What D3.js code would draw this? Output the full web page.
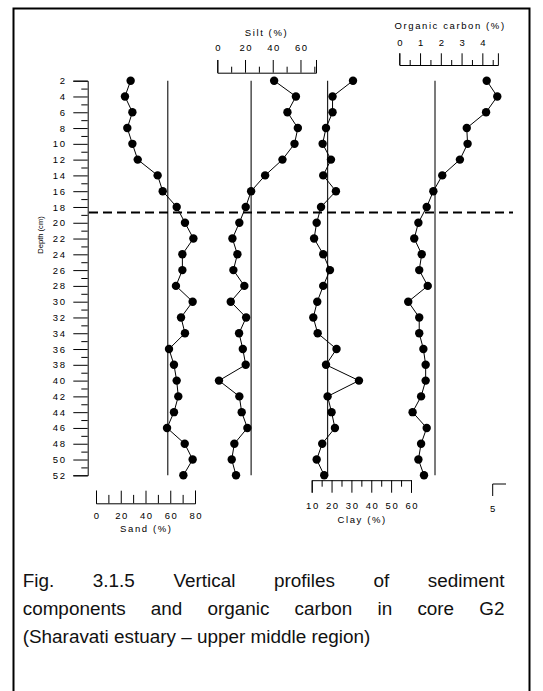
<!DOCTYPE html>
<html>
<head>
<meta charset="utf-8">
<script src="https://cdn.jsdelivr.net/npm/d3@7"></script>
<style>
  html, body { margin: 0; padding: 0; background: #fff; }
  svg { display: block; font-family: "Liberation Sans", Arial, sans-serif; }
</style>
</head>
<body>
<svg id="chart" width="543" height="691"></svg>
<script>
// Core G2 depth profiles (depth in cm)
const depths = [2, 4, 6, 8, 10, 12, 14, 16, 18, 20, 22, 24, 26, 28, 30, 32, 34, 36, 38, 40, 42, 44, 46, 48, 50, 52];
const sand = [28, 23.4, 29.4, 25.3, 29.4, 33.7, 49.8, 53.9, 65.2, 71.9, 78.7, 69.8, 69.8, 64.6, 78.1, 68.7, 71.9, 59, 63, 65.2, 66.5, 63, 57.4, 71.7, 78.1, 70.6];
const silt = [41, 56.7, 50.6, 58.1, 55.7, 47, 34.5, 24.4, 20.5, 15.9, 10.9, 14.5, 11.6, 19.5, 9.7, 20.8, 15.7, 18.4, 20.5, 1.2, 15.9, 17.6, 21.7, 12.3, 10.4, 13.5];
const clay = [30.8, 20.5, 20.5, 17.2, 15.5, 19.7, 15.8, 22.2, 14.7, 12.5, 11.2, 15.8, 19.2, 15.8, 12.8, 10.8, 13, 22.5, 17.2, 33.8, 18, 20, 21.7, 15.3, 12.5, 16.3];
const organicCarbon = [4.21, 4.72, 4.18, 3.25, 3.29, 2.92, 2.07, 1.64, 1.32, 0.92, 0.72, 1.08, 0.96, 1.37, 0.43, 0.96, 0.96, 1.16, 1.27, 1.27, 1.05, 0.64, 1.32, 1.05, 0.92, 1.19];

// Core averages shown as vertical reference lines
const sandMean = 58;
const siltMean = 24.4;
const clayMean = 18;
const carbonMean = 1.72;

// Depth of the boundary marked with a dashed line
const boundaryDepth = 18.7;

// Axis ticks and labels
const depthTicks = d3.range(2, 53, 1);
const sandTicks = [0, 10, 20, 30, 40, 50, 60, 70, 80];
const sandLabels = [0, 20, 40, 60, 80];
const siltTicks = [0, 10, 20, 30, 40, 50, 60, 70];
const siltLabels = [0, 20, 40, 60];
const clayTicks = [10, 15, 20, 25, 30, 35, 40, 45, 50, 55, 60];
const clayLabels = [10, 20, 30, 40, 50, 60];
const carbonTicks = [0, 0.5, 1, 1.5, 2, 2.5, 3, 3.5, 4, 4.5];
const carbonLabels = [0, 1, 2, 3, 4];

const captionLines = [
  "Fig. 3.1.5 Vertical profiles of sediment",
  "components and organic carbon in core G2",
  "(Sharavati estuary \u2013 upper middle region)"
];

const svg = d3.select("#chart");

// Page frame
svg.append("rect")
  .attr("x", 13.5).attr("y", 8.5)
  .attr("width", 516).attr("height", 700)
  .attr("fill", "none").attr("stroke", "#000").attr("stroke-width", 2);

// Scales
const y = d3.scaleLinear().domain([2, 52]).range([80.7, 475.3]);
const xSand = d3.scaleLinear().domain([0, 80]).range([96, 195]);
const xSilt = d3.scaleLinear().domain([0, 71.2]).range([217.3, 316]);
const xClay = d3.scaleLinear().domain([10, 60]).range([311.7, 411]);
const xCarbon = d3.scaleLinear().domain([0, 4.75]).range([399.3, 497.9]);

const tickFont = 9.5;
const spacing = 1.6;

function styleAxis(g) {
  g.selectAll("path.domain").attr("stroke", "#000").attr("stroke-width", 1);
  g.selectAll(".tick line").attr("stroke", "#000").attr("stroke-width", 1);
  g.selectAll(".tick text")
    .attr("fill", "#000")
    .style("font-size", tickFont + "px")
    .style("letter-spacing", spacing + "px")
    .style("font-family", "'Liberation Sans', Arial, sans-serif");
}

function axisTitle(x, yPos, text) {
  svg.append("text")
    .attr("x", x + spacing / 2).attr("y", yPos).attr("dy", "0.35em")
    .attr("text-anchor", "middle")
    .style("font-size", tickFont + "px")
    .style("letter-spacing", spacing + "px")
    .text(text);
}

// Depth axis: long labelled ticks at even depths, short ones between
const yAxis = svg.append("g")
  .attr("transform", "translate(87.7,0)")
  .call(d3.axisLeft(y).tickValues(depthTicks).tickSizeOuter(0).tickSize(14.4).tickPadding(9)
    .tickFormat(d => d % 2 === 0 ? d : ""));
styleAxis(yAxis);
yAxis.selectAll(".tick line").attr("x2", d => d % 2 === 0 ? -14.4 : -6.4);
yAxis.selectAll(".tick text").attr("x", -22.7 + spacing);

svg.append("text")
  .attr("transform", "translate(40.7,235) rotate(-90)")
  .attr("text-anchor", "middle").attr("dy", "0.35em")
  .style("font-size", "7.6px")
  .text("Depth (cm)");

// Sand axis (below, ticks pointing up)
const sandAxis = svg.append("g")
  .attr("transform", "translate(0,503.3)")
  .call(d3.axisBottom(xSand).tickValues(sandTicks).tickSizeOuter(0).tickSize(-12.6).tickPadding(9)
    .tickFormat(d => sandLabels.includes(d) ? d : ""));
styleAxis(sandAxis);
sandAxis.selectAll(".tick line").attr("y2", d => sandLabels.includes(d) ? -12.6 : -8.4);
sandAxis.selectAll(".tick text").attr("x", spacing / 2);
axisTitle(xSand(40), 529, "Sand (%)");

// Silt axis (above, ticks pointing up)
const siltAxis = svg.append("g")
  .attr("transform", "translate(0,72.7)")
  .call(d3.axisTop(xSilt).tickValues(siltTicks).tickSizeOuter(0).tickSize(12.7).tickPadding(15)
    .tickFormat(d => siltLabels.includes(d) ? d : ""));
styleAxis(siltAxis);
siltAxis.selectAll(".tick line").attr("y2", d => siltLabels.includes(d) ? -12.7 : -6);
siltAxis.selectAll(".tick text").attr("y", -24.7).attr("dy", "0.35em").attr("x", spacing / 2);
axisTitle(265.7, 33, "Silt (%)");

// Clay axis (below, ticks pointing down)
const clayAxis = svg.append("g")
  .attr("transform", "translate(0,480.2)")
  .call(d3.axisBottom(xClay).tickValues(clayTicks).tickSizeOuter(0).tickSize(12.5).tickPadding(9)
    .tickFormat(d => clayLabels.includes(d) ? d : ""));
styleAxis(clayAxis);
clayAxis.selectAll(".tick line").attr("y2", d => clayLabels.includes(d) ? 12.5 : 6.5);
clayAxis.selectAll(".tick text").attr("y", 25.8).attr("dy", "0.35em").attr("x", spacing / 2);
axisTitle(xClay(35), 520, "Clay (%)");

// Organic carbon axis (above, ticks pointing up)
const carbonAxis = svg.append("g")
  .attr("transform", "translate(0,65)")
  .call(d3.axisTop(xCarbon).tickValues(carbonTicks).tickSizeOuter(0).tickSize(11.7).tickPadding(15)
    .tickFormat(d => carbonLabels.includes(d) ? d : ""));
styleAxis(carbonAxis);
carbonAxis.selectAll(".tick line").attr("y2", d => carbonLabels.includes(d) ? -11.7 : -5);
carbonAxis.selectAll(".tick text").attr("y", -22.3).attr("dy", "0.35em").attr("x", spacing / 2);
axisTitle(449.3, 26, "Organic carbon (%)");

// Small scale marker labelled 5
svg.append("path")
  .attr("d", "M492.7,496V484H506")
  .attr("fill", "none").attr("stroke", "#000").attr("stroke-width", 1);
axisTitle(492.7, 509, "5");

// Mean lines
const means = [
  { scale: xSand, value: sandMean },
  { scale: xSilt, value: siltMean },
  { scale: xClay, value: clayMean },
  { scale: xCarbon, value: carbonMean }
];
svg.append("g").selectAll("line").data(means).join("line")
  .attr("x1", d => d.scale(d.value)).attr("x2", d => d.scale(d.value))
  .attr("y1", y(2)).attr("y2", y(52))
  .attr("stroke", "#222").attr("stroke-width", 1.2);

// Profiles
const profiles = [
  { scale: xSand, values: sand },
  { scale: xSilt, values: silt },
  { scale: xClay, values: clay },
  { scale: xCarbon, values: organicCarbon }
];
profiles.forEach(p => {
  const pts = depths.map((d, i) => [p.scale(p.values[i]), y(d)]);
  svg.append("path")
    .attr("d", d3.line()(pts))
    .attr("fill", "none").attr("stroke", "#000").attr("stroke-width", 1);
  svg.append("g").selectAll("circle").data(pts).join("circle")
    .attr("cx", d => d[0]).attr("cy", d => d[1])
    .attr("r", 4.2).attr("fill", "#000");
});

// Boundary
svg.append("line")
  .attr("x1", 89).attr("x2", 513)
  .attr("y1", y(boundaryDepth)).attr("y2", y(boundaryDepth))
  .attr("stroke", "#000").attr("stroke-width", 2)
  .attr("stroke-dasharray", "9,5");

// Caption, justified over the first two lines
const capLeft = 22.7, capRight = 504.5, capSize = 18.9;
const baselines = [586.7, 615, 643];
captionLines.forEach((line, li) => {
  const words = line.split(" ");
  const g = svg.append("g");
  if (li === captionLines.length - 1) {
    g.append("text").attr("x", capLeft).attr("y", baselines[li])
      .style("font-size", capSize + "px").attr("fill", "#111").text(line);
    return;
  }
  const nodes = words.map(w => g.append("text").attr("y", baselines[li])
    .style("font-size", capSize + "px").attr("fill", "#111").text(w));
  const widths = nodes.map(n => n.node().getComputedTextLength());
  const total = d3.sum(widths);
  const gap = (capRight - capLeft - total) / (words.length - 1);
  let x = capLeft;
  nodes.forEach((n, i) => { n.attr("x", x); x += widths[i] + gap; });
});
</script>
</body>
</html>
